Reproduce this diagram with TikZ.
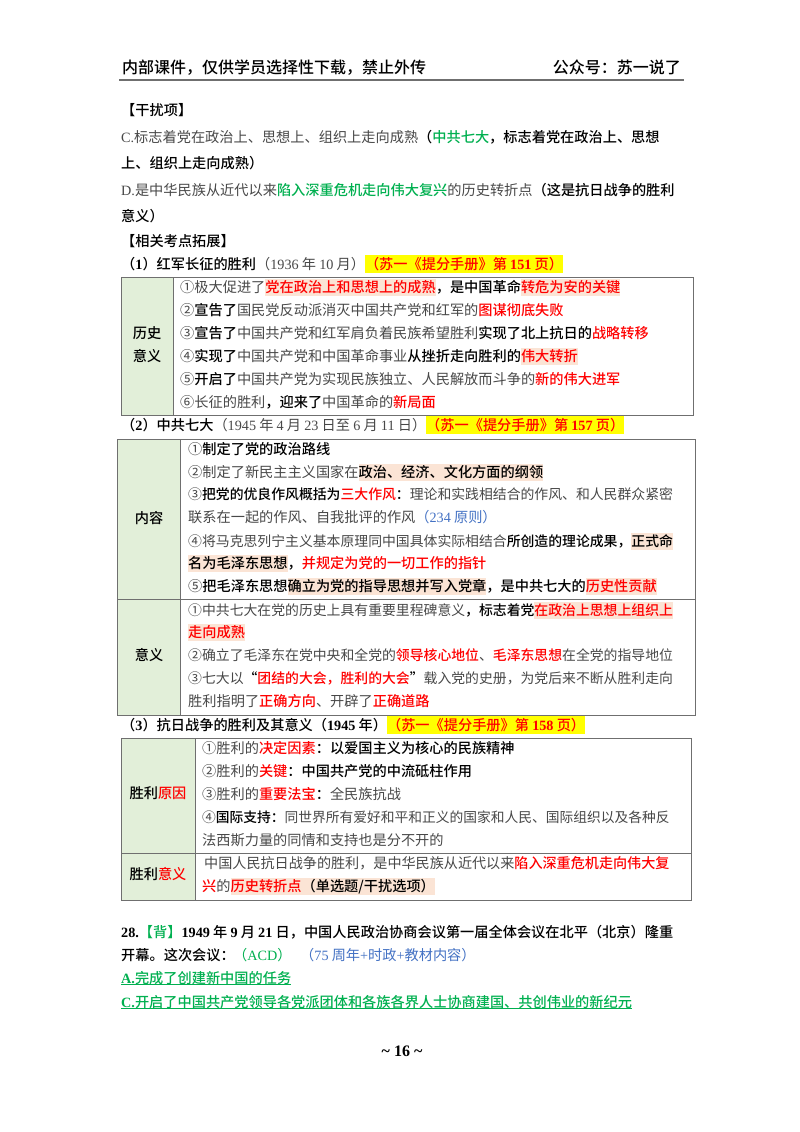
\documentclass[tikz,border=0pt]{standalone}
\usepackage{fontspec}
\usepackage{xcolor}
\setmainfont{Noto Sans CJK SC}[BoldFont={Noto Sans CJK SC Medium}]
\newfontfamily\latf{Liberation Serif}

\definecolor{bodygray}{HTML}{484848}
\definecolor{cellgreen}{HTML}{E2EFD9}
\definecolor{hlpink}{HTML}{FBE4D5}
\definecolor{hlyellow}{HTML}{FFFF00}
\definecolor{txtgreen}{HTML}{00B050}
\definecolor{txtblue}{HTML}{4472C4}
\definecolor{rulegray}{HTML}{6F6F6F}

\setlength{\fboxsep}{0pt}
\newcommand{\lat}[1]{{\latf #1}}
\newcommand{\blk}[1]{{\bfseries\color{black}#1}}
\newcommand{\rdt}[1]{{\bfseries\color{red}#1}}
\newcommand{\grn}[1]{{\bfseries\color{txtgreen}#1}}
\newcommand{\blu}[1]{{\color{txtblue}#1}}
\newcommand{\hlt}[1]{\colorbox{hlpink}{\rule[-3.6pt]{0pt}{17pt}#1}}
\newcommand{\hly}[1]{\colorbox{hlyellow}{\rule[-3.8pt]{0pt}{18pt}\rdt{#1}}}

\tikzset{
  tline/.style={anchor=west, inner sep=0pt, text height=12pt, text depth=1.2pt, text=bodygray, font=\fontsize{14.2}{14.2}\selectfont},
  fs/.style={font=\fontsize{#1}{#1}\selectfont},
  celllabel/.style={inner sep=0pt, font=\fontsize{14.2}{14.2}\selectfont\bfseries},
  cellline/.style={draw=rulegray, line width=0.9pt}
}

\begin{document}
\begin{tikzpicture}[x=1pt,y=1pt]
  \useasboundingbox (0,0) rectangle (800,-1132);
  \fill[white] (0,0) rectangle (800,-1132);

  % Page header
  \node[tline, fs=16, text=black] (headl) at (122,-68) {\bfseries 内部课件，仅供学员选择性下载，禁止外传};
  \node[tline, fs=16, text=black, anchor=east] (headr) at (681,-68) {\bfseries 公众号：苏一说了};
  \coordinate (rulel) at (119,-80);
  \coordinate (ruler) at (684,-80);
  \draw[rulegray, line width=1.4pt] (rulel) -- (ruler);

  % Distractor options
  \node[tline] (gan) at (121,-110) {\blk{【干扰项】}};
  \node[tline] (optc) at (121,-137) {\lat{C.}标志着党在政治上、思想上、组织上走向成熟\blk{（}\grn{中共七大}\blk{，标志着党在政治上、思想}};
  \node[tline] (optcb) at (121,-163) {\blk{上、组织上走向成熟）}};
  \node[tline] (optd) at (121,-190) {\lat{D.}是中华民族从近代以来\grn{陷入深重危机走向伟大复兴}的历史转折点\blk{（这是抗日战争的胜利}};
  \node[tline] (optdb) at (121,-216) {\blk{意义）}};
  \node[tline] (ext) at (121,-241) {\blk{【相关考点拓展】}};

  % Table 1
  \node[tline] (t1h) at (121,-264) {\blk{（\lat{1}）红军长征的胜利}（\lat{1936} 年 \lat{10} 月）\hly{（苏一《提分手册》第 \lat{151} 页）}};
  \fill[cellgreen] (121,-277) rectangle (173,-415);
  \draw[cellline] (121,-277) rectangle (693,-415);
  \draw[cellline] (173,-277) -- (173,-415);
  \node[celllabel] (t1la) at (147,-333) {历史};
  \node[celllabel] (t1lb) at (147,-356) {意义};
  \node[tline] (t1a) at (180,-287) {①极大促进了\hlt{\rdt{党在政治上和思想上的成熟}}\blk{，是中国革命}\hlt{\rdt{转危为安的关键}}};
  \node[tline] (t1b) at (180,-310) {②\blk{宣告了}国民党反动派消灭中国共产党和红军的\rdt{图谋彻底失败}};
  \node[tline] (t1c) at (180,-333) {③\blk{宣告了}中国共产党和红军肩负着民族希望胜利\blk{实现了北上抗日的}\rdt{战略转移}};
  \node[tline] (t1d) at (180,-356) {④\blk{实现了}中国共产党和中国革命事业\blk{从挫折走向胜利的}\hlt{\rdt{伟大转折}}};
  \node[tline] (t1e) at (180,-379) {⑤\blk{开启了}中国共产党为实现民族独立、人民解放而斗争的\rdt{新的伟大进军}};
  \node[tline] (t1f) at (180,-402) {⑥长征的胜利\blk{，迎来了}中国革命的\rdt{新局面}};

  % Table 2
  \node[tline] (t2h) at (121,-425) {\blk{（\lat{2}）中共七大}（\lat{1945} 年 \lat{4} 月 \lat{23} 日至 \lat{6} 月 \lat{11} 日）\hly{（苏一《提分手册》第 \lat{157} 页）}};
  \fill[cellgreen] (117,-439) rectangle (180,-715);
  \draw[cellline] (117,-439) rectangle (695,-715);
  \draw[cellline] (180,-439) -- (180,-715);
  \draw[cellline] (117,-599) -- (695,-599);
  \node[celllabel] (t2la) at (149,-518) {内容};
  \node[celllabel] (t2lb) at (149,-655) {意义};
  \node[tline] (t2a) at (188,-449) {①\blk{制定了党的政治路线}};
  \node[tline] (t2b) at (188,-472) {②制定了新民主主义国家在\hlt{\blk{政治、经济、文化方面的纲领}}};
  \node[tline, fs=13.85] (t2c) at (188,-494) {③\blk{把党的优良作风概括为}\rdt{三大作风}\blk{：}理论和实践相结合的作风、和人民群众紧密};
  \node[tline] (t2d) at (188,-517) {联系在一起的作风、自我批评的作风\blu{（\lat{234} 原则）}};
  \node[tline, fs=13.85] (t2e) at (188,-541) {④将马克思列宁主义基本原理同中国具体实际相结合\blk{所创造的理论成果，}\hlt{\blk{正式命}}};
  \node[tline] (t2f) at (188,-563) {\hlt{\blk{名为毛泽东思想}}\blk{，}\rdt{并规定为党的一切工作的指针}};
  \node[tline] (t2g) at (188,-586) {⑤\blk{把毛泽东思想}\hlt{\blk{确立为党的指导思想并写入党章}}\blk{，是中共七大的}\hlt{\rdt{历史性贡献}}};
  \node[tline, fs=13.85] (t2i) at (188,-610) {①中共七大在党的历史上具有重要里程碑意义\blk{，标志着党}\hlt{\rdt{在政治上思想上组织上}}};
  \node[tline] (t2j) at (188,-632) {\hlt{\rdt{走向成熟}}};
  \node[tline, fs=13.85] (t2k) at (188,-655) {②确立了毛泽东在党中央和全党的\rdt{领导核心地位}、\rdt{毛泽东思想}在全党的指导地位};
  \node[tline, fs=13.85] (t2l) at (188,-678) {③七大以\blk{“}\rdt{团结的大会，胜利的大会}\blk{”}载入党的史册，为党后来不断从胜利走向};
  \node[tline] (t2m) at (188,-701) {胜利指明了\rdt{正确方向}、开辟了\rdt{正确道路}};

  % Table 3
  \node[tline] (t3h) at (121,-725) {\blk{（\lat{3}）抗日战争的胜利及其意义（\lat{1945} 年）}\hly{（苏一《提分手册》第 \lat{158} 页）}};
  \fill[cellgreen] (121,-738) rectangle (195,-900);
  \draw[cellline] (121,-738) rectangle (691,-900);
  \draw[cellline] (195,-738) -- (195,-900);
  \draw[cellline] (121,-853) -- (691,-853);
  \node[celllabel] (t3la) at (158,-793) {胜利\textcolor{red}{原因}};
  \node[celllabel] (t3lb) at (158,-874) {胜利\textcolor{red}{意义}};
  \node[tline] (t3a) at (202,-748) {①胜利的\rdt{决定因素}\blk{：以爱国主义为核心的民族精神}};
  \node[tline] (t3b) at (202,-771) {②胜利的\rdt{关键}\blk{：中国共产党的中流砥柱作用}};
  \node[tline] (t3c) at (202,-794) {③胜利的\rdt{重要法宝}\blk{：}全民族抗战};
  \node[tline, fs=13.75] (t3d) at (202,-817) {④\blk{国际支持：}同世界所有爱好和平和正义的国家和人民、国际组织以及各种反};
  \node[tline] (t3e) at (202,-840) {法西斯力量的同情和支持也是分不开的};
  \node[tline, fs=14.1] (t3f) at (204,-863) {中国人民抗日战争的胜利，是中华民族从近代以来\rdt{陷入深重危机走向伟大复}};
  \node[tline] (t3g) at (202,-886) {\rdt{兴}的\hlt{\rdt{历史转折点}\blk{（单选题/干扰选项）}}};

  % Question 28
  \node[tline] (qa) at (121,-932) {\blk{\lat{28.}}\grn{【背】}\blk{\lat{1949} 年 \lat{9} 月 \lat{21} 日，中国人民政治协商会议第一届全体会议在北平（北京）隆重}};
  \node[tline] (qb) at (121,-955) {\blk{开幕。这次会议：}};
  \node[tline, text=txtgreen] (qc) at (233,-955) {（\lat{ACD}）};
  \node[tline, text=txtblue] (qd) at (300,-955) {（\lat{75} 周年\lat{+}时政\lat{+}教材内容）};
  \node[tline, text=txtgreen, font=\fontsize{14.2}{14.2}\selectfont\bfseries] (ansa) at (121,-978) {\lat{A.}完成了创建新中国的任务};
  \node[tline, text=txtgreen, font=\fontsize{14.2}{14.2}\selectfont\bfseries] (ansc) at (121,-1002) {\lat{C.}开启了中国共产党领导各党派团体和各族各界人士协商建国、共创伟业的新纪元};
  \draw[txtgreen, line width=0.8pt] (ansa.south west) -- (ansa.south east);
  \draw[txtgreen, line width=0.8pt] (ansc.south west) -- (ansc.south east);

  % Page number
  \node[inner sep=0pt, text=black, font=\fontsize{16}{16}\selectfont\bfseries\latf] (pageno) at (402,-1051) {\textasciitilde\ 16 \textasciitilde};
\end{tikzpicture}
\end{document}
